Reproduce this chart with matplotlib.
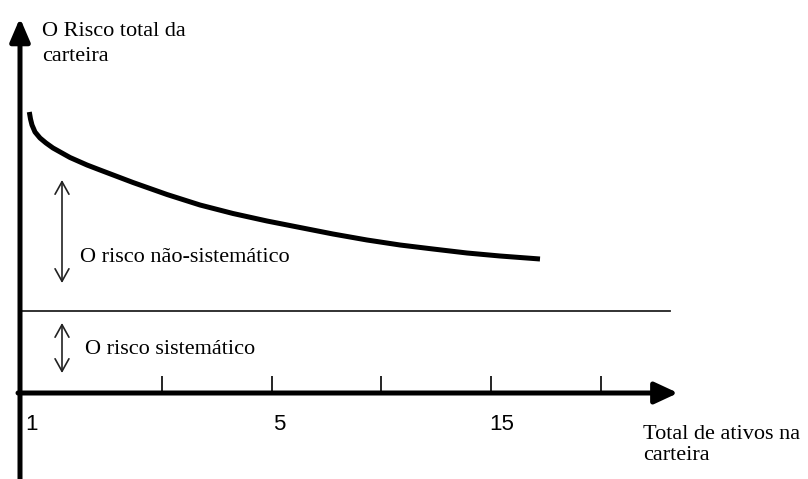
import matplotlib
matplotlib.use("Agg")
import matplotlib.pyplot as plt

# ---- data (units: horizontal ~ diversification scale, vertical ~ risk level) ----
curve_x = [0.93, 1.05, 1.2, 1.5, 2.0, 2.6, 3.3, 5.0, 6.7, 8.0, 11.3, 14.7, 18.0,
           21.3, 24.7, 28.0, 31.3, 34.7, 38.0, 41.3, 44.7, 48.0, 52.0]
curve_risk = [28.1, 27.4, 26.8, 26.1, 25.5, 25.0, 24.5, 23.55, 22.8, 22.3, 21.05, 19.85, 18.8,
              17.95, 17.2, 16.55, 15.9, 15.3, 14.8, 14.4, 14.0, 13.7, 13.4]
systematic_risk = 8.2
tick_positions = [14.2, 25.2, 36.1, 47.1, 58.1]
tick_label_text = ["1", "5", "15"]
tick_label_pos = [1.15, 25.9, 48.2]

y_label = "O Risco total da\ncarteira"
x_label = "Total de ativos na\ncarteira"
label_nonsys = "O risco não-sistemático"
label_sys = "O risco sistemático"

fig = plt.figure(figsize=(8.08, 4.79), dpi=100)
ax = fig.add_axes([0, 0, 1, 1])
ax.set_xlim(-2.0, 78.8)
ax.set_ylim(-8.6, 39.3)
ax.axis("off")

serif = ["Liberation Serif", "DejaVu Serif"]
sans = ["Liberation Sans", "DejaVu Sans"]

# axes with arrows
ax.annotate("", xy=(0, 37.5), xytext=(0, -8.6),
            arrowprops=dict(arrowstyle="-|>,head_length=14,head_width=6",
                            mutation_scale=1, lw=3.6, color="black",
                            shrinkA=0, shrinkB=0))
ax.annotate("", xy=(65.8, 0), xytext=(-0.2, 0),
            arrowprops=dict(arrowstyle="-|>,head_length=14,head_width=6.5",
                            mutation_scale=1, lw=3.6, color="black",
                            shrinkA=0, shrinkB=0))

# ticks
for t in tick_positions:
    ax.plot([t, t], [-0.2, 1.7], color="black", lw=1.2, solid_capstyle="butt")

for lab, p in zip(tick_label_text, tick_label_pos):
    ax.text(p, -3.2, lab, ha="center", va="center", fontsize=16, family=sans)

# systematic risk line
ax.plot([0, 65.0], [systematic_risk, systematic_risk], color="#222222", lw=1.3)

# total risk curve
ax.plot(curve_x, curve_risk, color="black", lw=3.6, solid_capstyle="butt",
        solid_joinstyle="round")

# double arrows
ax.annotate("", xy=(4.2, 21.3), xytext=(4.2, 11.0),
            arrowprops=dict(arrowstyle="<->,head_length=9,head_width=5",
                            mutation_scale=1, lw=1.2, color="#222222",
                            shrinkA=0, shrinkB=0))
ax.annotate("", xy=(4.2, 7.0), xytext=(4.2, 2.0),
            arrowprops=dict(arrowstyle="<->,head_length=9,head_width=5",
                            mutation_scale=1, lw=1.2, color="#222222",
                            shrinkA=0, shrinkB=0))

ax.text(6.0, 13.6, label_nonsys, ha="left", va="center", fontsize=16, family=serif)
ax.text(6.5, 4.4, label_sys, ha="left", va="center", fontsize=16, family=serif)

ax.text(2.2, 37.1, y_label, ha="left", va="top", fontsize=16, family=serif,
        linespacing=1.4)
ax.text(62.3, -3.2, x_label, ha="left", va="top", fontsize=16, family=serif,
        linespacing=1.12)

fig.savefig("out.png", dpi=100)
